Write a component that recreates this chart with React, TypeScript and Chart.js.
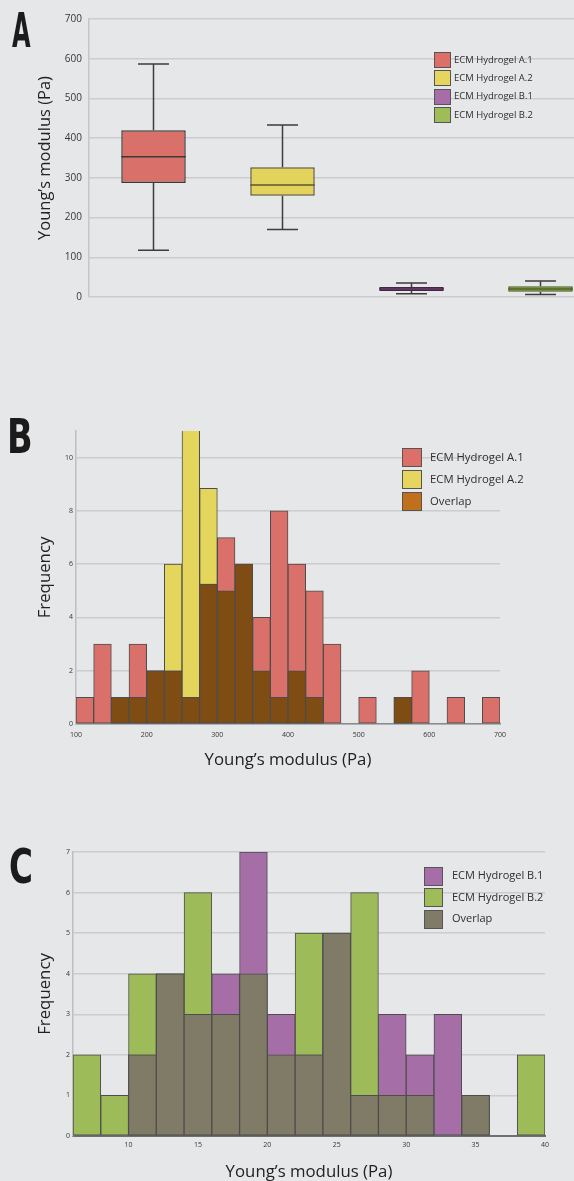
import { useEffect, useRef } from "react";
import { Chart, registerables } from "chart.js";

Chart.register(...registerables);

const FONT = "'Open Sans', 'DejaVu Sans', sans-serif";
const BG = "#e6e7e9";
const TEXT = "#353535";
const TITLE = "#222222";
const GRID = "#cbccce";

// ---------- Panel A: box plots ----------
const boxLabels = ["ECM Hydrogel A.1", "ECM Hydrogel A.2", "ECM Hydrogel B.1", "ECM Hydrogel B.2"];
const boxMin = [118, 170, 8, 6];
const boxQ1 = [287, 255, 15, 13];
const boxMedian = [353, 282, 20, 20];
const boxQ3 = [420, 327, 25, 27];
const boxMax = [587, 433, 35, 40];
const boxFill = ["#d9706a", "#e3d35d", "#9a5c9b", "#8fae4b"];
const boxEdge = ["#3a3a3a", "#5b5634", "#4a2448", "#4a5f1f"];
const legendFillA = ["#dc6f68", "#e6d660", "#a66da7", "#9ebc57"];
const yTicksA = { min: 0, max: 700, step: 100 };

// ---------- Panel B: histogram A.1 vs A.2 ----------
const binStartB = [100, 125, 150, 175, 200, 225, 250, 275, 300, 325, 350, 375, 400, 425, 450, 475, 500, 525, 550, 575, 600, 625, 650, 675];
const binWidthB = 25;
const freqA1 = [1, 3, 1, 3, 2, 2, 1, 5.25, 7, 6, 4, 8, 6, 5, 3, 0, 1, 0, 1, 2, 0, 1, 0, 1];
const freqA2 = [0, 0, 1, 1, 2, 6, 12, 8.85, 5, 6, 2, 1, 2, 1, 0, 0, 0, 0, 1, 0, 0, 0, 0, 0];
const xTicksB = { min: 100, max: 700, step: 100 };
const yTicksB = { min: 0, max: 11, step: 2 };
const legendLabelsB = ["ECM Hydrogel A.1", "ECM Hydrogel A.2", "Overlap"];
const barColorsB = ["#d9706a", "#e4d55d", "#7f4d14"];
const legendFillB = ["#dc6f68", "#e6d660", "#c0701b"];

// ---------- Panel C: histogram B.1 vs B.2 ----------
const binStartC = [6, 8, 10, 12, 14, 16, 18, 20, 22, 24, 26, 28, 30, 32, 34, 36, 38];
const binWidthC = 2;
const freqB1 = [0, 0, 2, 4, 3, 4, 7, 3, 2, 5, 1, 3, 2, 3, 1, 0, 0];
const freqB2 = [2, 1, 4, 4, 6, 3, 4, 2, 5, 5, 6, 1, 1, 0, 1, 0, 2];
const xTicksC = { min: 6, max: 40, step: 5 };
const yTicksC = { min: 0, max: 7, step: 1 };
const legendLabelsC = ["ECM Hydrogel B.1", "ECM Hydrogel B.2", "Overlap"];
const barColorsC = ["#a56ea6", "#9dbb58", "#807b66"];
const legendFillC = ["#a66da7", "#9ebc57", "#807b66"];

const X_TITLE = "Young’s modulus (Pa)";

Chart.defaults.font.family = FONT;

type LegendCfg = {
  x: number; y: number; dy: number; w: number; h: number; gap: number; size: number;
  labels: string[]; colors: string[];
};

function makeLegend(cfg: LegendCfg) {
  return {
    id: "customLegend",
    afterDraw(chart: any) {
      const ctx = chart.ctx;
      ctx.save();
      cfg.labels.forEach((label, i) => {
        const cy = cfg.y + i * cfg.dy;
        const top = Math.round(cy - cfg.h / 2);
        ctx.fillStyle = cfg.colors[i];
        ctx.fillRect(cfg.x, top, cfg.w, cfg.h);
        ctx.strokeStyle = "#555555";
        ctx.lineWidth = 1;
        ctx.strokeRect(cfg.x + 0.5, top + 0.5, cfg.w - 1, cfg.h - 1);
        ctx.fillStyle = "#2e2e2e";
        ctx.font = `${cfg.size}px ${FONT}`;
        ctx.textAlign = "left";
        ctx.textBaseline = "middle";
        ctx.fillText(label, cfg.x + cfg.w + cfg.gap, cy);
      });
      ctx.restore();
    },
  };
}

const whiskerPlugin = {
  id: "whiskers",
  beforeDatasetsDraw(chart: any) {
    const meta = chart.getDatasetMeta(0);
    const y = chart.scales.y;
    const ctx = chart.ctx;
    ctx.save();
    ctx.strokeStyle = "#3d3d3d";
    ctx.lineWidth = 1.5;
    meta.data.forEach((el: any, i: number) => {
      const x = el.x;
      const half = el.width * 0.24;
      const yMin = y.getPixelForValue(boxMin[i]);
      const yMax = y.getPixelForValue(boxMax[i]);
      const yQ1 = y.getPixelForValue(boxQ1[i]);
      const yQ3 = y.getPixelForValue(boxQ3[i]);
      ctx.beginPath();
      ctx.moveTo(x, yMax); ctx.lineTo(x, yQ3);
      ctx.moveTo(x, yQ1); ctx.lineTo(x, yMin);
      ctx.moveTo(x - half, yMax); ctx.lineTo(x + half, yMax);
      ctx.moveTo(x - half, yMin); ctx.lineTo(x + half, yMin);
      ctx.stroke();
    });
    ctx.restore();
  },
  afterDatasetsDraw(chart: any) {
    const meta = chart.getDatasetMeta(0);
    const y = chart.scales.y;
    const ctx = chart.ctx;
    ctx.save();
    ctx.lineWidth = 1.5;
    meta.data.forEach((el: any, i: number) => {
      const half = el.width / 2;
      const ym = y.getPixelForValue(boxMedian[i]);
      ctx.strokeStyle = boxEdge[i];
      ctx.beginPath();
      ctx.moveTo(el.x - half, ym);
      ctx.lineTo(el.x + half, ym);
      ctx.stroke();
    });
    ctx.restore();
  },
};

function toPoints(starts: number[], width: number, vals: number[]) {
  return starts.map((s, i) => ({ x: s + width / 2, y: vals[i] > 0 ? vals[i] : null }));
}
function overlapOf(a: number[], b: number[]) {
  return a.map((v, i) => (v > 0 && b[i] > 0 ? Math.min(v, b[i]) : 0));
}

const barCommon = {
  borderColor: "#4d4d4d",
  borderWidth: 1,
  borderSkipped: false,
  grouped: false,
  barPercentage: 1,
  categoryPercentage: 1,
};

function cfgA(): any {
  return {
    type: "bar",
    data: {
      labels: boxLabels,
      datasets: [
        {
          label: "Young’s modulus",
          data: boxQ1.map((q, i) => [q, boxQ3[i]]),
          backgroundColor: boxFill,
          borderColor: boxEdge,
          borderWidth: 1.5,
          borderSkipped: false,
          barPercentage: 0.5,
          categoryPercentage: 1,
        },
      ],
    },
    options: {
      animation: false,
      responsive: false,
      events: [],
      layout: { padding: { left: 0, right: 15, top: 19, bottom: 23 } },
      plugins: { legend: { display: false }, tooltip: { enabled: false } },
      scales: {
        x: { display: false },
        y: {
          min: yTicksA.min,
          max: yTicksA.max,
          ticks: { stepSize: yTicksA.step, padding: 7, color: TEXT, font: { family: FONT, size: 10 } },
          grid: { color: GRID, lineWidth: 1.5, drawTicks: false },
          border: { display: true, color: "#c4c5c8", width: 1.5 },
          title: {
            display: true, text: X_TITLE, color: TITLE,
            font: { family: FONT, size: 16.5 }, padding: { top: 35, bottom: 0 },
          },
          afterFit: (s: any) => { s.width = 89; },
        },
      },
    },
    plugins: [
      whiskerPlugin,
      makeLegend({ x: 434, y: 60, dy: 18.3, w: 17, h: 16, gap: 3, size: 9.5, labels: boxLabels, colors: legendFillA }),
    ],
  };
}

function histCfg(opts: {
  starts: number[]; width: number; s1: number[]; s2: number[]; labels: string[]; colors: string[];
  legendFill: string[]; xt: any; yt: any; yWidth: number; xHeight: number; padding: any;
  xTickPad: number; yTickPad: number; xTitlePad: number; legend: any; xBorder: any;
}): any {
  const ov = overlapOf(opts.s1, opts.s2);
  return {
    type: "bar",
    data: {
      datasets: [
        { ...barCommon, label: opts.labels[2], data: toPoints(opts.starts, opts.width, ov), backgroundColor: opts.colors[2], order: 0 },
        { ...barCommon, label: opts.labels[0], data: toPoints(opts.starts, opts.width, opts.s1), backgroundColor: opts.colors[0], order: 1 },
        { ...barCommon, label: opts.labels[1], data: toPoints(opts.starts, opts.width, opts.s2), backgroundColor: opts.colors[1], order: 2 },
      ],
    },
    options: {
      animation: false,
      responsive: false,
      events: [],
      layout: { padding: opts.padding },
      plugins: { legend: { display: false }, tooltip: { enabled: false } },
      scales: {
        x: {
          type: "linear",
          min: opts.xt.min,
          max: opts.xt.max,
          offset: false,
          ticks: {
            stepSize: opts.xt.step, includeBounds: false, padding: opts.xTickPad, color: TEXT,
            font: { family: FONT, size: 7 }, maxRotation: 0, autoSkip: false,
          },
          grid: { display: false, offset: false, drawTicks: false },
          border: { display: true, ...opts.xBorder },
          title: {
            display: true, text: X_TITLE, color: TITLE,
            font: { family: FONT, size: 16.8 }, padding: { top: 0, bottom: opts.xTitlePad },
          },
          afterFit: (s: any) => { s.height = opts.xHeight; },
        },
        y: {
          min: opts.yt.min,
          max: opts.yt.max,
          ticks: {
            stepSize: opts.yt.step, includeBounds: false, padding: opts.yTickPad, color: TEXT,
            font: { family: FONT, size: 7 },
          },
          grid: { color: GRID, lineWidth: 1.5, drawTicks: false },
          border: { display: true, color: "#bdbec1", width: 1.5 },
          title: {
            display: true, text: "Frequency", color: TITLE,
            font: { family: FONT, size: 16.8 }, padding: { top: 35, bottom: 0 },
          },
          afterFit: (s: any) => { s.width = opts.yWidth; },
        },
      },
    },
    plugins: [makeLegend({ ...opts.legend, labels: opts.labels, colors: opts.legendFill })],
  };
}

function cfgB(): any {
  return histCfg({
    starts: binStartB, width: binWidthB, s1: freqA1, s2: freqA2,
    labels: legendLabelsB, colors: barColorsB, legendFill: legendFillB,
    xt: xTicksB, yt: yTicksB, yWidth: 76, xHeight: 56,
    padding: { left: 0, right: 74, top: 31, bottom: 0 },
    xTickPad: 7, yTickPad: 3, xTitlePad: 10,
    xBorder: { color: "#8a8a8a", width: 1.5 },
    legend: { x: 402, y: 57.5, dy: 22.2, w: 20, h: 19, gap: 8, size: 11.3 },
  });
}

function cfgC(): any {
  return histCfg({
    starts: binStartC, width: binWidthC, s1: freqB1, s2: freqB2,
    labels: legendLabelsC, colors: barColorsC, legendFill: legendFillC,
    xt: xTicksC, yt: yTicksC, yWidth: 73, xHeight: 64,
    padding: { left: 0, right: 29, top: 22, bottom: 0 },
    xTickPad: 5, yTickPad: 3, xTitlePad: 17.8,
    xBorder: { color: "#6f6f6f", width: 2 },
    legend: { x: 424, y: 46, dy: 21.5, w: 19, h: 19, gap: 9, size: 11 },
  });
}

function letterStyle(left: number, top: number, sx: number): any {
  return {
    position: "absolute",
    left,
    top,
    fontFamily: "'DejaVu Sans', sans-serif",
    fontWeight: 700,
    fontSize: 48,
    lineHeight: "48px",
    color: "#1b1b1b",
    transform: `scaleX(${sx})`,
    transformOrigin: "left top",
    whiteSpace: "nowrap",
  };
}

export default function App() {
  const refA = useRef<HTMLCanvasElement>(null);
  const refB = useRef<HTMLCanvasElement>(null);
  const refC = useRef<HTMLCanvasElement>(null);

  useEffect(() => {
    const charts = [
      new Chart(refA.current!, cfgA()),
      new Chart(refB.current!, cfgB()),
      new Chart(refC.current!, cfgC()),
    ];
    return () => charts.forEach((c) => c.destroy());
  }, []);

  return (
    <div
      style={{
        position: "absolute", left: 0, top: 0, width: 574, height: 1181,
        overflow: "hidden", background: BG,
      }}
    >
      <canvas ref={refA} width={620} height={320} style={{ position: "absolute", left: 0, top: 0 }} />
      <canvas ref={refB} width={574} height={380} style={{ position: "absolute", left: 0, top: 400 }} />
      <canvas ref={refC} width={574} height={370} style={{ position: "absolute", left: 0, top: 830 }} />
      <div style={letterStyle(12, 6, 0.5)}>A</div>
      <div style={letterStyle(7, 412, 0.7)}>B</div>
      <div style={letterStyle(8.5, 842, 0.68)}>C</div>
    </div>
  );
}
